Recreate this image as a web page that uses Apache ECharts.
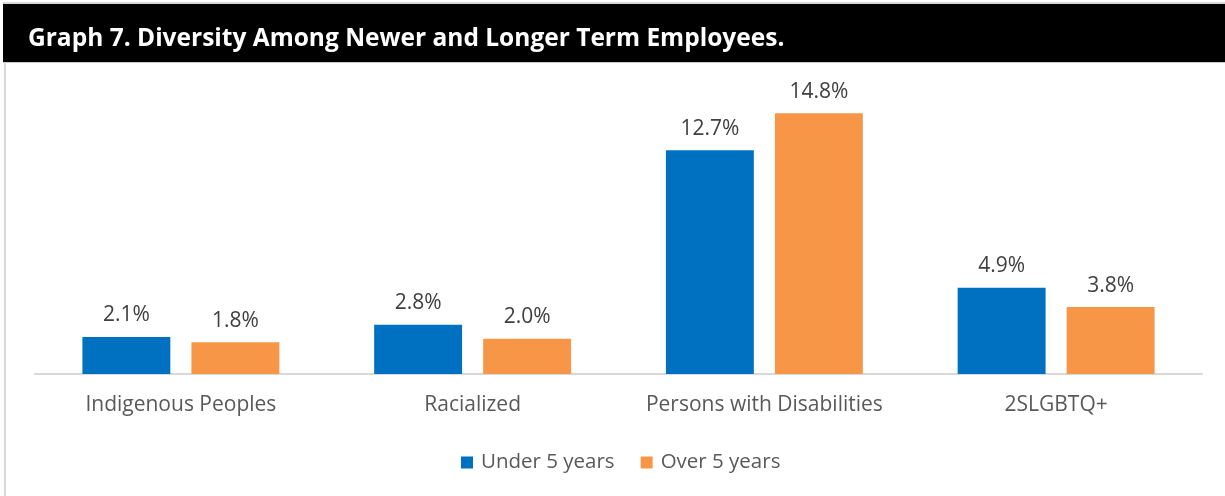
<!DOCTYPE html>
<html>
<head>
<meta charset="utf-8">
<script src="https://cdn.jsdelivr.net/npm/echarts@6/dist/echarts.min.js"></script>
<style>
  html, body { margin: 0; padding: 0; background: #fff; }
  #chart { width: 1225px; height: 496px; }
</style>
</head>
<body>
<div id="chart"></div>
<script>
// Diversity shares by tenure group
const categories = ['Indigenous Peoples', 'Racialized', 'Persons with Disabilities', '2SLGBTQ+'];
const seriesNames = ['Under 5 years', 'Over 5 years'];
const under5 = [2.1, 2.8, 12.7, 4.9];
const over5 = [1.8, 2.0, 14.8, 3.8];
const titleText = 'Graph 7. Diversity Among Newer and Longer Term Employees.';

const FONT = '"Open Sans", "Liberation Sans", Arial, sans-serif';
const chart = echarts.init(document.getElementById('chart'), null, { renderer: 'canvas' });

const valueLabel = {
  show: true,
  position: 'top',
  distance: 11,
  color: '#404040',
  fontSize: 21,
  fontFamily: FONT,
  formatter: p => p.value.toFixed(1) + '%'
};

chart.setOption({
  animation: false,
  graphic: [
    { type: 'rect', shape: { x: 3, y: 2, width: 1222, height: 2 }, style: { fill: '#d9d9d9' } },
    { type: 'rect', shape: { x: 3, y: 4, width: 1222, height: 58 }, style: { fill: '#000' } },
    { type: 'rect', shape: { x: 3, y: 62, width: 1222, height: 1 }, style: { fill: '#c8c8c8' } },
    { type: 'rect', shape: { x: 4, y: 62, width: 2, height: 434 }, style: { fill: '#d9d9d9' } },
    {
      type: 'text', x: 28, y: 39,
      style: { text: titleText, fill: '#fff', font: 'bold 24.5px ' + FONT, verticalAlign: 'middle' }
    }
  ],
  legend: {
    data: seriesNames,
    top: 447,
    left: 456,
    itemWidth: 12,
    itemHeight: 12,
    itemGap: 26,
    icon: 'rect',
    textStyle: { color: '#595959', fontSize: 20.5, fontFamily: FONT, padding: [0, 0, 0, 3] }
  },
  grid: { left: 35, right: 23, top: 92, bottom: 122 },
  xAxis: {
    type: 'category',
    data: categories,
    axisLine: { lineStyle: { color: '#d9d9d9', width: 2 } },
    axisTick: { show: false },
    axisLabel: { color: '#595959', fontSize: 21, fontFamily: FONT, margin: 21, interval: 0 }
  },
  yAxis: {
    type: 'value',
    min: 0,
    max: 16,
    show: false,
    splitLine: { show: false }
  },
  series: [
    {
      name: seriesNames[0], type: 'bar', data: under5,
      itemStyle: { color: '#0070C0' },
      barGap: '24%', barCategoryGap: '32.5%',
      label: valueLabel
    },
    {
      name: seriesNames[1], type: 'bar', data: over5,
      itemStyle: { color: '#F79646' },
      label: valueLabel
    }
  ]
});
</script>
</body>
</html>
